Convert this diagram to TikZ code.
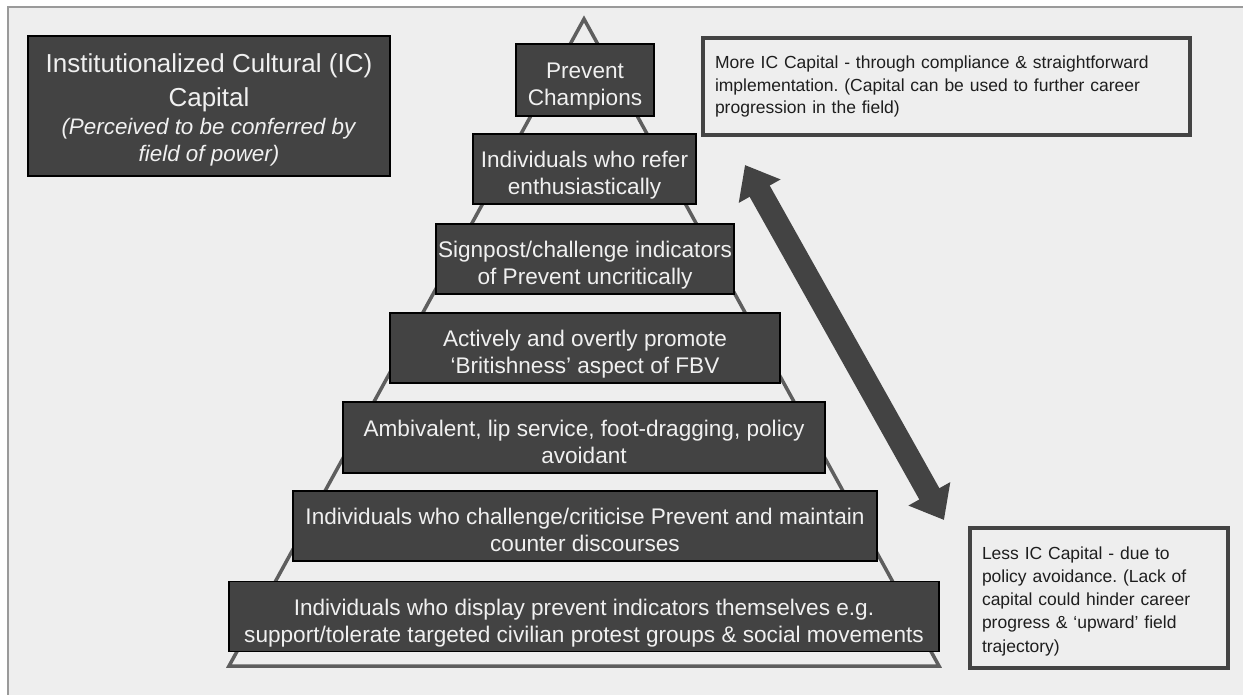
\documentclass[tikz,border=0pt]{standalone}
\usepackage{fontspec}
\setmainfont{Liberation Sans}
\usetikzlibrary{arrows.meta}
\frenchspacing
\definecolor{bgfill}{HTML}{EEEEEE}
\definecolor{framecol}{HTML}{9A9A9A}
\definecolor{boxfill}{HTML}{434343}
\definecolor{tricol}{HTML}{5E5E5E}
\definecolor{txtdark}{HTML}{1E1E1E}
\definecolor{txtlight}{HTML}{F0F0F0}
\newcommand{\twolines}[2]{\rule{0pt}{30.2pt}#1\\#2\rule[-6pt]{0pt}{6pt}}
\begin{document}
\begin{tikzpicture}[x=1pt,y=-1pt,
  darkbox/.style={draw=black, line width=1.2pt, fill=boxfill, text=txtlight,
    inner sep=0pt, align=center},
  level/.style={darkbox, font=\fontsize{22.6}{27}\selectfont},
  note/.style={draw=boxfill, line width=3.2pt, fill=bgfill, text=txtdark,
    inner xsep=12pt, inner ysep=0pt, align=left,
    font=\fontsize{17.5}{22.8}\selectfont},
  bigarrow/.style={boxfill, line width=23pt,
    {Triangle[length=30pt,width=46pt]}-{Triangle[length=30pt,width=46pt]}}
]
\useasboundingbox (0,0) rectangle (1243,694);
\clip (0,0) rectangle (1243,694);
\fill[white] (0,0) rectangle (1243,694);
\draw[fill=bgfill, draw=framecol, line width=2pt] (8,7) rectangle (1270,720);

% pyramid outline
\coordinate (apex) at (584,19);
\coordinate (baseR) at (939,666);
\coordinate (baseL) at (229,666);
\draw[tricol, line width=3.5pt, line join=miter] (apex) -- (baseR) -- (baseL) -- cycle;

% pyramid levels
\node[level, minimum width=138pt, minimum height=72pt] (l1) at (585,80)
  {\twolines{Prevent}{Champions}};
\node[level, minimum width=223pt, minimum height=70pt] (l2) at (584.5,169)
  {\twolines{Individuals who refer}{enthusiastically}};
\node[level, minimum width=298pt, minimum height=70pt] (l3) at (585,259)
  {\twolines{Signpost/challenge indicators}{of Prevent uncritically}};
\node[level, minimum width=390pt, minimum height=70pt] (l4) at (585,348)
  {\twolines{Actively and overtly promote}{‘Britishness’ aspect of FBV}};
\node[level, minimum width=482pt, minimum height=71pt] (l5) at (584,437.5)
  {\twolines{Ambivalent, lip service, foot-dragging, policy}{avoidant}};
\node[level, minimum width=584pt, minimum height=70pt] (l6) at (585,526)
  {\twolines{Individuals who challenge/criticise Prevent and maintain}{counter discourses}};
\node[level, minimum width=710pt, minimum height=70pt] (l7) at (584,616.5)
  {\twolines{Individuals who display prevent indicators themselves e.g.}{support/tolerate targeted civilian protest groups \& social movements}};

% title box
\node[darkbox, minimum width=362pt, minimum height=140pt,
  font=\fontsize{22.4}{26.5}\selectfont] (title) at (209,106)
  {{\fontsize{26}{30}\selectfont\rule{0pt}{27pt}Institutionalized Cultural (IC)}\\[7pt]
   {\fontsize{26}{30}\selectfont Capital}\\[2pt]
   \textit{(Perceived to be conferred by}\\
   \textit{field of power)}};

% notes
\node[note, minimum width=487pt, minimum height=97pt, text width=463pt] (more) at (946.5,86.5)
  {More IC Capital - through compliance \& straightforward\\
   implementation. (Capital can be used to further career\\
   progression in the field)};
\node[note, minimum width=258pt, minimum height=140pt, text width=234pt,
  font=\fontsize{17.5}{23.3}\selectfont] (less) at (1099,598)
  {\rule{0pt}{19pt}Less IC Capital - due to\\
   policy avoidance. (Lack of\\
   capital could hinder career\\
   progress \& ‘upward’ field\\
   trajectory)};

% double arrow
\coordinate (up) at (745,165);
\coordinate (down) at (944,520);
\draw[bigarrow] (up) -- (down);
\end{tikzpicture}
\end{document}
